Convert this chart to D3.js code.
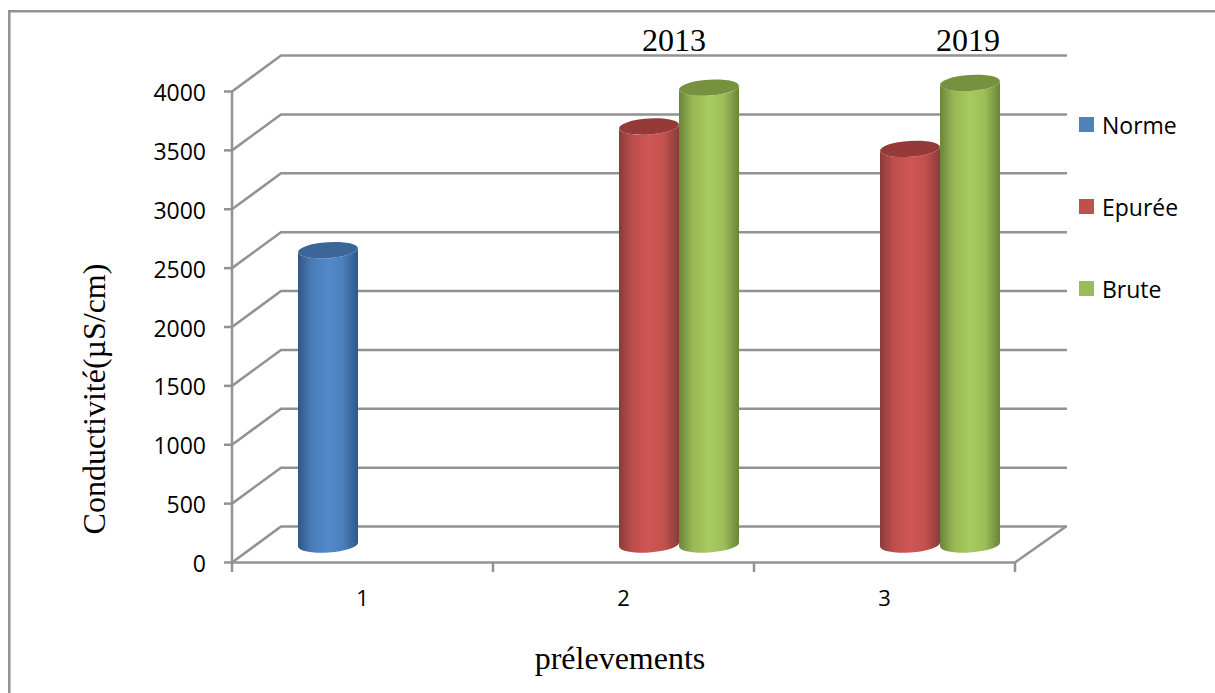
<!DOCTYPE html>
<html>
<head>
<meta charset="utf-8">
<script src="https://cdn.jsdelivr.net/npm/d3@7"></script>
<style>
html,body{margin:0;padding:0;background:#fff;}
svg{display:block;}
</style>
</head>
<body>
<div id="chart"></div>
<script>
// Conductivity per sampling, drawn as 3D-look cylinders on a box-shaped grid.
const categories = ["1", "2", "3"];
const seriesNames = ["Norme", "Epurée", "Brute"];
const seriesColors = ["#4f81bd", "#c0504d", "#9bbb59"];
const normeValues = [2500, null, null];
const epureeValues = [null, 3550, 3360];
const bruteValues = [null, 3880, 3920];
const yTicks = [0, 500, 1000, 1500, 2000, 2500, 3000, 3500, 4000];
const yearLabels = ["2013", "2019"];
const yTitle = "Conductivité(µS/cm)";
const xTitle = "prélevements";

const width = 1215, height = 693;
const depthX = 49, depthY = -36;       // back wall offset from the front plane
const midX = 25.5, midY = -18;         // bars stand at mid depth
const gridColor = "#929292";
const lineWidth = 2.5;

const svg = d3.select("#chart").append("svg").attr("width", width).attr("height", height);
const defs = svg.append("defs");

const x = d3.scaleBand().domain(categories).range([232, 1015]);
const seriesX = d3.scaleBand().domain(seriesNames).range([-90, 90]);
const y = d3.scaleLinear().domain([0, 4000]).range([562.5, 91.5]);

// Side shading of each cylinder: dark edges, lit centre
const shades = [
  {edge: "#2f5885", mid: "#5389cb", top: "#3b6699"},
  {edge: "#8a3b39", mid: "#d05653", top: "#953a38"},
  {edge: "#6a8439", mid: "#a8cb60", top: "#76923f"}
];
shades.forEach((s, i) => {
  const g = defs.append("linearGradient").attr("id", "side" + i);
  [[0, s.edge], [0.22, d3.interpolateRgb(s.edge, s.mid)(0.72)], [0.5, s.mid],
   [0.75, d3.interpolateRgb(s.edge, s.mid)(0.8)], [1, s.edge]]
    .forEach(([o, c]) => g.append("stop").attr("offset", o).attr("stop-color", c));
});

// Outer frame, open at the right and bottom
const frame = svg.append("g").attr("fill", "none").attr("stroke", gridColor).attr("stroke-width", lineWidth);
frame.append("line").attr("x1", 8).attr("x2", width).attr("y1", 11.3).attr("y2", 11.3);
frame.append("line").attr("x1", 9.3).attr("x2", 9.3).attr("y1", 10).attr("y2", height);

// Grid: diagonal on the side wall, horizontal on the back wall
const grid = svg.append("g").attr("fill", "none");
function gridPath(v) {
  const p = d3.path();
  p.moveTo(232, y(v));
  p.lineTo(232 + depthX, y(v) + depthY);
  p.lineTo(1067, y(v) + depthY);
  return p.toString();
}
grid.selectAll("path.gridline").data(yTicks).join("path")
  .attr("class", "gridline")
  .attr("d", v => gridPath(v)).attr("stroke", gridColor).attr("stroke-width", lineWidth);

// Floor edge on the right, front edge and the value axis
const axes = svg.append("g").attr("stroke", gridColor).attr("stroke-width", lineWidth).attr("fill", "none");
axes.append("line").attr("x1", 232).attr("y1", y(4000)).attr("x2", 232).attr("y2", 572);
axes.append("line").attr("x1", 231).attr("y1", y(0)).attr("x2", 1015).attr("y2", y(0));
axes.append("line").attr("x1", 1015).attr("y1", y(0)).attr("x2", 1015 + depthX + 2).attr("y2", y(0) + depthY);
axes.selectAll("line.ytick").data(yTicks).join("line").attr("class", "ytick")
  .attr("x1", 224).attr("x2", 232).attr("y1", d => y(d)).attr("y2", d => y(d));
axes.selectAll("line.xtick").data(x.domain().map(c => x(c) + x.bandwidth())).join("line").attr("class", "xtick")
  .attr("x1", d => d).attr("x2", d => d).attr("y1", y(0)).attr("y2", 572);

// Cylinders
const rows = [normeValues, epureeValues, bruteValues];
const tilt = -3.8;
const ry = 8;
const marks = [];
seriesNames.forEach((name, si) => {
  categories.forEach((c, ci) => {
    if (rows[si][ci] != null) marks.push({name, si, c, v: rows[si][ci]});
  });
});
const bars = svg.append("g").selectAll("g").data(marks).join("g");
bars.each(function (d) {
  const g = d3.select(this);
  const rx = seriesX.bandwidth() / 2;
  const cx = x(d.c) + x.bandwidth() / 2 + midX + seriesX(d.name) + rx;
  const yBase = y(0) + midY, yTop = y(d.v) + midY;
  const slope = Math.tan(tilt * Math.PI / 180) * rx;
  const lx = cx - rx, rxp = cx + rx;
  g.append("path")
    .attr("d", `M${lx},${yTop - slope}L${lx},${yBase - slope}` +
      `A${rx},${ry} ${tilt} 0 0 ${rxp},${yBase + slope}L${rxp},${yTop + slope}` +
      `A${rx},${ry} ${tilt} 0 1 ${lx},${yTop - slope}Z`)
    .attr("fill", `url(#side${d.si})`);
  g.append("ellipse")
    .attr("rx", rx).attr("ry", ry)
    .attr("transform", `translate(${cx},${yTop}) rotate(${tilt})`)
    .attr("fill", shades[d.si].top);
});

// Text
const sans = "'Open Sans', sans-serif", serif = "'Liberation Serif', serif";
svg.append("g").selectAll("text").data(yTicks).join("text")
  .attr("x", 206).attr("y", d => y(d) + 9.5)
  .attr("text-anchor", "end").attr("font-family", sans).attr("font-size", 23).attr("fill", "#000")
  .text(d => d);
svg.append("g").selectAll("text").data(categories).join("text")
  .attr("x", c => x(c) + x.bandwidth() / 2).attr("y", 606)
  .attr("text-anchor", "middle").attr("font-family", sans).attr("font-size", 22).attr("fill", "#000")
  .text(c => c);
const yearX = d3.scalePoint().domain(yearLabels).range([674, 968]);
svg.append("g").selectAll("text").data(yearLabels).join("text")
  .attr("x", d => yearX(d))
  .attr("y", 51)
  .attr("text-anchor", "middle").attr("font-family", serif).attr("font-size", 32).attr("fill", "#000")
  .text(d => d);
svg.append("text").attr("transform", "translate(105,399) rotate(-90)")
  .attr("text-anchor", "middle").attr("font-family", serif).attr("font-size", 32).attr("fill", "#000")
  .text(yTitle);
svg.append("text").attr("x", 620).attr("y", 669)
  .attr("text-anchor", "middle").attr("font-family", serif).attr("font-size", 32).attr("fill", "#000")
  .text(xTitle);

// Legend
const legendY = d3.scalePoint().domain(seriesNames).range([124.5, 288.5]);
const legend = svg.append("g").selectAll("g").data(seriesNames).join("g")
  .attr("transform", d => `translate(1079,${legendY(d)})`);
legend.append("rect").attr("y", -7.5).attr("width", 15).attr("height", 15)
  .attr("fill", (d, i) => seriesColors[i]);
legend.append("text").attr("x", 23).attr("y", 9.5).attr("font-family", sans).attr("font-size", 23).attr("fill", "#000")
  .text(d => d);
</script>
</body>
</html>
